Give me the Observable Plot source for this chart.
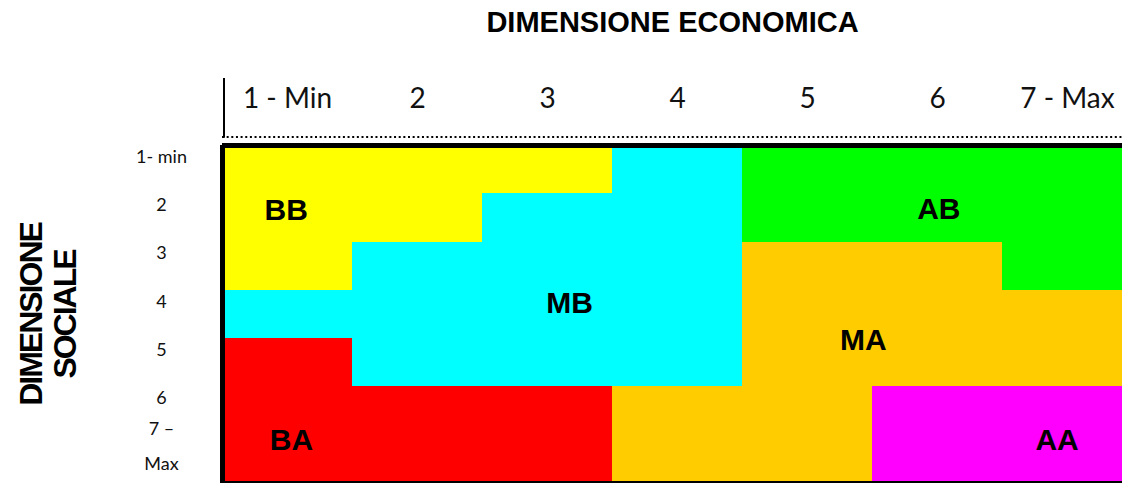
<!DOCTYPE html>
<html>
<head>
<meta charset="utf-8">
<script src="https://cdn.jsdelivr.net/npm/d3@7"></script>
<script src="https://cdn.jsdelivr.net/npm/@observablehq/plot@0.6"></script>
<style>
  html, body { margin: 0; padding: 0; background: #fff; overflow: hidden; }
  #chart svg { display: block; }
</style>
</head>
<body>
<div id="chart"></div>
<script>
// Column (economic) and row (social) tick labels
const colLabels = ["1 - Min", "2", "3", "4", "5", "6", "7 - Max"];
const rowLabels = ["1- min", "2", "3", "4", "5", "6", "7 –\nMax"];

// Zones and their colours
const zones = ["BB", "MB", "AB", "MA", "BA", "AA"];
const zoneColors = ["#FFFF00", "#00FFFF", "#00FF00", "#FFCC00", "#FF0000", "#FF00FF"];

// Zone of each cell, one row per social level (top = 1 - min)
const gridRows = [
  ["BB", "BB", "BB", "MB", "AB", "AB", "AB"],
  ["BB", "BB", "MB", "MB", "AB", "AB", "AB"],
  ["BB", "MB", "MB", "MB", "MA", "MA", "AB"],
  ["MB", "MB", "MB", "MB", "MA", "MA", "MA"],
  ["BA", "MB", "MB", "MB", "MA", "MA", "MA"],
  ["BA", "BA", "BA", "MA", "MA", "AA", "AA"],
  ["BA", "BA", "BA", "MA", "MA", "AA", "AA"]
];

// Zone label placement in grid units
const zoneLabelNames = ["BB", "AB", "MB", "MA", "BA", "AA"];
const zoneLabelCol = [0.49, 5.51, 2.67, 4.93, 0.53, 6.42];
const zoneLabelRow = [1.34, 1.33, 3.26, 4.03, 6.1, 6.1];

const cells = [];
gridRows.forEach((row, r) => row.forEach((z, c) => cells.push({col: c, row: r, zone: z})));
const zoneLabels = zoneLabelNames.map((n, i) => ({name: n, col: zoneLabelCol[i], row: zoneLabelRow[i]}));

const W = 1122, H = 483;
const plot = Plot.plot({
  width: W,
  height: H,
  marginLeft: 222,
  marginRight: 0,
  marginTop: 145,
  marginBottom: 0,
  x: {type: "linear", domain: [0, 7], range: [222, 1132], axis: null},
  y: {type: "linear", domain: [0, 7], range: [145, 483], axis: null},
  color: {type: "ordinal", domain: zones, range: zoneColors},
  style: {background: "#fff", overflow: "hidden"},
  marks: [
    Plot.rect(cells, {
      x1: "col", x2: d => d.col + 1,
      y1: "row", y2: d => d.row + 1,
      fill: "zone", inset: 0, shapeRendering: "crispEdges"
    }),
    // thick border: left, top, bottom
    Plot.ruleX([0], {stroke: "#000", strokeWidth: 5}),
    Plot.ruleY([0, 7], {stroke: "#000", strokeWidth: 5}),
    // dotted header baseline and vertical separator
    Plot.ruleY([0], {dy: -8.5, stroke: "#000", strokeWidth: 2, strokeDasharray: "2,2.65"}),
    Plot.ruleX([0], {y1: -1.39, y2: -0.15, dx: 1.5, stroke: "#000", strokeWidth: 2}),
    // zone labels
    Plot.text(zoneLabels, {
      x: "col", y: "row", text: "name",
      fontFamily: "Liberation Sans, Arial, sans-serif", fontWeight: "bold",
      fontSize: 30, fill: "#000"
    }),
    // column tick labels
    Plot.text(colLabels, {
      x: (d, i) => i + 0.5, frameAnchor: "top", dy: -46, lineAnchor: "middle",
      fontFamily: "Lato, sans-serif", fontSize: 28, fill: "#111"
    }),
    // row tick labels
    Plot.text(rowLabels, {
      y: (d, i) => i + 0.5, frameAnchor: "left", dx: -61, dy: -18,
      textAnchor: "middle", lineAnchor: "middle", lineHeight: 1.94,
      fontFamily: "Lato, sans-serif", fontSize: 18, fill: "#111",
      style: {letterSpacing: "1px"}
    }),
    // main title
    Plot.text(["DIMENSIONE ECONOMICA"], {
      frameAnchor: "top", dy: -123, lineAnchor: "middle", textAnchor: "middle",
      fontFamily: "Liberation Sans, Arial, sans-serif", fontWeight: "bold",
      fontSize: 29, fill: "#000"
    }),
    // y title
    Plot.text(["DIMENSIONE\nSOCIALE"], {
      frameAnchor: "left", dx: -174.5, rotate: -90, lineHeight: 1.05,
      textAnchor: "middle", lineAnchor: "middle",
      fontFamily: "Liberation Sans, Arial, sans-serif", fontWeight: "bold",
      fontSize: 32, fill: "#000"
    })
  ]
});
document.getElementById("chart").appendChild(plot);
// tighten the y-title letters
d3.select(plot).selectAll("text").each(function() {
  if (this.textContent.indexOf("SOCIALE") >= 0) d3.select(this).style("letter-spacing", "-2px");
});
</script>
</body>
</html>
